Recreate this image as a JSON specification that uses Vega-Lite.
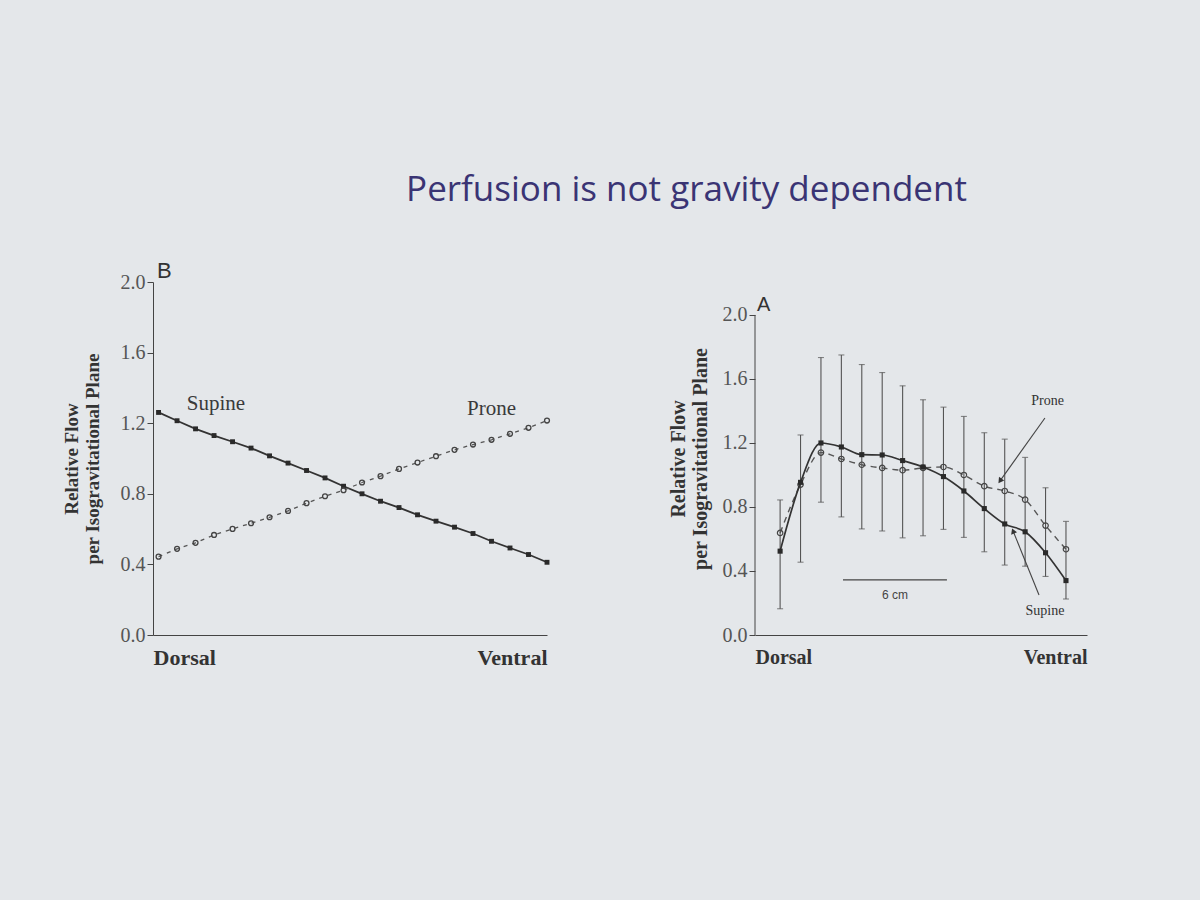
{
  "$schema": "https://vega.github.io/schema/vega-lite/v6.json",
  "background": "#e4e7ea",
  "padding": {"top": 173, "left": 62, "right": 113, "bottom": 241},
  "title": {
    "text": "Perfusion is not gravity dependent",
    "font": "Open Sans",
    "fontSize": 35,
    "fontWeight": "normal",
    "color": "#3a3474",
    "anchor": "middle",
    "dx": 112,
    "offset": 52
  },
  "config": {
    "view": {"stroke": null},
    "axis": {
      "grid": false,
      "domainColor": "#444",
      "tickColor": "#444",
      "labelFont": "Liberation Serif",
      "labelColor": "#555",
      "titleFont": "Liberation Serif",
      "titleColor": "#333"
    }
  },
  "datasets": {
    "b": [
      {"series": "Supine", "pos": 0, "flow": 1.261}, {"series": "Supine", "pos": 1, "flow": 1.214},
      {"series": "Supine", "pos": 2, "flow": 1.168}, {"series": "Supine", "pos": 3, "flow": 1.130},
      {"series": "Supine", "pos": 4, "flow": 1.095}, {"series": "Supine", "pos": 5, "flow": 1.059},
      {"series": "Supine", "pos": 6, "flow": 1.015}, {"series": "Supine", "pos": 7, "flow": 0.974},
      {"series": "Supine", "pos": 8, "flow": 0.932}, {"series": "Supine", "pos": 9, "flow": 0.890},
      {"series": "Supine", "pos": 10, "flow": 0.843}, {"series": "Supine", "pos": 11, "flow": 0.800},
      {"series": "Supine", "pos": 12, "flow": 0.758}, {"series": "Supine", "pos": 13, "flow": 0.722},
      {"series": "Supine", "pos": 14, "flow": 0.681}, {"series": "Supine", "pos": 15, "flow": 0.645},
      {"series": "Supine", "pos": 16, "flow": 0.611}, {"series": "Supine", "pos": 17, "flow": 0.575},
      {"series": "Supine", "pos": 18, "flow": 0.531}, {"series": "Supine", "pos": 19, "flow": 0.493},
      {"series": "Supine", "pos": 20, "flow": 0.456}, {"series": "Supine", "pos": 21, "flow": 0.412},
      {"series": "Prone", "pos": 0, "flow": 0.444}, {"series": "Prone", "pos": 1, "flow": 0.488},
      {"series": "Prone", "pos": 2, "flow": 0.522}, {"series": "Prone", "pos": 3, "flow": 0.567},
      {"series": "Prone", "pos": 4, "flow": 0.601}, {"series": "Prone", "pos": 5, "flow": 0.633},
      {"series": "Prone", "pos": 6, "flow": 0.667}, {"series": "Prone", "pos": 7, "flow": 0.703},
      {"series": "Prone", "pos": 8, "flow": 0.747}, {"series": "Prone", "pos": 9, "flow": 0.786},
      {"series": "Prone", "pos": 10, "flow": 0.820}, {"series": "Prone", "pos": 11, "flow": 0.864},
      {"series": "Prone", "pos": 12, "flow": 0.900}, {"series": "Prone", "pos": 13, "flow": 0.941},
      {"series": "Prone", "pos": 14, "flow": 0.977}, {"series": "Prone", "pos": 15, "flow": 1.013},
      {"series": "Prone", "pos": 16, "flow": 1.049}, {"series": "Prone", "pos": 17, "flow": 1.079},
      {"series": "Prone", "pos": 18, "flow": 1.106}, {"series": "Prone", "pos": 19, "flow": 1.140},
      {"series": "Prone", "pos": 20, "flow": 1.174}, {"series": "Prone", "pos": 21, "flow": 1.215}
    ],
    "bLabels": [
      {"text": "Supine", "pos": 3.1, "flow": 1.31},
      {"text": "Prone", "pos": 18.0, "flow": 1.28}
    ],
    "a": [
      {"pos": 0, "supine": 0.524, "prone": 0.638, "lo": 0.164, "hi": 0.844},
      {"pos": 1, "supine": 0.954, "prone": 0.94, "lo": 0.455, "hi": 1.25},
      {"pos": 2, "supine": 1.20, "prone": 1.14, "lo": 0.83, "hi": 1.734},
      {"pos": 3, "supine": 1.175, "prone": 1.10, "lo": 0.738, "hi": 1.75},
      {"pos": 4, "supine": 1.127, "prone": 1.064, "lo": 0.663, "hi": 1.69},
      {"pos": 5, "supine": 1.125, "prone": 1.044, "lo": 0.65, "hi": 1.64},
      {"pos": 6, "supine": 1.09, "prone": 1.03, "lo": 0.607, "hi": 1.557},
      {"pos": 7, "supine": 1.05, "prone": 1.044, "lo": 0.62, "hi": 1.47},
      {"pos": 8, "supine": 0.99, "prone": 1.05, "lo": 0.66, "hi": 1.424},
      {"pos": 9, "supine": 0.90, "prone": 1.00, "lo": 0.61, "hi": 1.366},
      {"pos": 10, "supine": 0.79, "prone": 0.93, "lo": 0.52, "hi": 1.264},
      {"pos": 11, "supine": 0.694, "prone": 0.90, "lo": 0.437, "hi": 1.224},
      {"pos": 12, "supine": 0.645, "prone": 0.846, "lo": 0.43, "hi": 1.11},
      {"pos": 13, "supine": 0.514, "prone": 0.684, "lo": 0.366, "hi": 0.92},
      {"pos": 14, "supine": 0.34, "prone": 0.536, "lo": 0.225, "hi": 0.71}
    ],
    "aLabels": [
      {"text": "Prone", "pos": 13.1, "flow": 1.46},
      {"text": "Supine", "pos": 12.97, "flow": 0.15}
    ],
    "aArrows": [
      {"name": "Prone", "pos": 12.97, "flow": 1.356, "pos2": 10.77, "flow2": 0.963},
      {"name": "Supine", "pos": 12.68, "flow": 0.25, "pos2": 11.41, "flow2": 0.65}
    ],
    "aScale": [
      {"pos": 3.08, "flow": 0.344, "pos2": 8.17, "label": "6 cm", "mid": 5.63, "labelFlow": 0.25}
    ]
  },
  "hconcat": [
    {
      "width": 394,
      "height": 353,
      "encoding": {
        "x": {
          "field": "pos", "type": "quantitative",
          "scale": {"domain": [-0.3, 21], "nice": false, "zero": false},
          "axis": {
            "values": [-0.3, 21],
            "labelExpr": "datum.value < 5 ? 'Dorsal' : 'Ventral'",
            "labelFlush": true,
            "ticks": false,
            "title": null,
            "labelFontSize": 22,
            "labelFontWeight": "bold",
            "labelColor": "#333",
            "labelPadding": 12
          }
        },
        "y": {
          "field": "flow", "type": "quantitative",
          "scale": {"domain": [0, 2.0], "nice": false},
          "axis": {
            "values": [0, 0.4, 0.8, 1.2, 1.6, 2.0],
            "format": ".1f",
            "labelFontSize": 20,
            "tickSize": 6,
            "title": ["Relative Flow", "per Isogravitational Plane"],
            "titleFontSize": 19,
            "titleFontWeight": "bold",
            "titlePadding": 18
          }
        }
      },
      "layer": [
        {
          "data": {"name": "b"},
          "transform": [{"filter": "datum.series === 'Supine'"}],
          "mark": {"type": "line", "color": "#333", "strokeWidth": 1.8, "point": {"shape": "square", "filled": true, "size": 24, "color": "#2a2a2a"}}
        },
        {
          "data": {"name": "b"},
          "transform": [{"filter": "datum.series === 'Prone'"}],
          "mark": {"type": "line", "color": "#555", "strokeWidth": 1.3, "strokeDash": [4, 5], "point": {"shape": "circle", "filled": false, "size": 24, "color": "#444", "strokeWidth": 1.3}}
        },
        {
          "data": {"name": "bLabels"},
          "mark": {"type": "text", "font": "Liberation Serif", "fontSize": 21, "color": "#3a3a3a"},
          "encoding": {"text": {"field": "text"}}
        },
        {
          "data": {"values": [{"label": "B", "pos": -0.3, "flow": 2.06}]},
          "mark": {"type": "text", "font": "Liberation Sans", "fontSize": 22, "color": "#333", "align": "left", "dx": 4},
          "encoding": {"text": {"field": "label"}}
        }
      ]
    },
    {
      "width": 332,
      "height": 353,
      "encoding": {
        "x": {
          "field": "pos", "type": "quantitative",
          "scale": {"domain": [-1.23, 15.03], "nice": false, "zero": false},
          "axis": {
            "values": [-1.23, 15.03],
            "labelExpr": "datum.value < 5 ? 'Dorsal' : 'Ventral'",
            "labelFlush": true,
            "ticks": false,
            "title": null,
            "labelFontSize": 20,
            "labelFontWeight": "bold",
            "labelColor": "#333",
            "labelPadding": 12
          }
        }
      },
      "layer": [
        {
          "data": {"values": [{"pos": -1.23, "lo": 0, "hi": 2.0}]},
          "mark": {"type": "rule", "color": "#444", "strokeWidth": 1},
          "encoding": {
            "y": {
              "field": "lo", "type": "quantitative",
              "scale": {"domain": [0, 2.206], "nice": false},
              "axis": {
                "values": [0, 0.4, 0.8, 1.2, 1.6, 2.0],
                "format": ".1f",
                "domain": false,
                "labelFontSize": 20,
                "tickSize": 6,
                "title": ["Relative Flow", "per Isogravitational Plane"],
                "titleFontSize": 20,
                "titleFontWeight": "bold",
                "titlePadding": 12
              }
            },
            "y2": {"field": "hi"}
          }
        },
        {
          "data": {"name": "a"},
          "mark": {"type": "rule", "color": "#555", "strokeWidth": 1.1},
          "encoding": {"y": {"field": "lo", "type": "quantitative"}, "y2": {"field": "hi"}}
        },
        {
          "data": {"name": "a"},
          "mark": {"type": "tick", "orient": "horizontal", "color": "#555", "size": 6, "thickness": 1.1},
          "encoding": {"y": {"field": "lo", "type": "quantitative"}}
        },
        {
          "data": {"name": "a"},
          "mark": {"type": "tick", "orient": "horizontal", "color": "#555", "size": 6, "thickness": 1.1},
          "encoding": {"y": {"field": "hi", "type": "quantitative"}}
        },
        {
          "data": {"name": "a"},
          "mark": {"type": "line", "color": "#555", "strokeWidth": 1.4, "strokeDash": [6, 5], "interpolate": "monotone", "point": {"shape": "circle", "filled": false, "size": 30, "color": "#444", "strokeWidth": 1.2}},
          "encoding": {"y": {"field": "prone", "type": "quantitative"}}
        },
        {
          "data": {"name": "a"},
          "mark": {"type": "line", "color": "#333", "strokeWidth": 1.7, "interpolate": "monotone", "point": {"shape": "square", "filled": true, "size": 26, "color": "#2a2a2a"}},
          "encoding": {"y": {"field": "supine", "type": "quantitative"}}
        },
        {
          "data": {"name": "aScale"},
          "mark": {"type": "rule", "color": "#444", "strokeWidth": 1.2},
          "encoding": {"y": {"field": "flow", "type": "quantitative"}, "x2": {"field": "pos2"}}
        },
        {
          "data": {"name": "aScale"},
          "mark": {"type": "text", "font": "Liberation Sans", "fontSize": 12, "color": "#444"},
          "encoding": {"x": {"field": "mid", "type": "quantitative"}, "y": {"field": "labelFlow", "type": "quantitative"}, "text": {"field": "label"}}
        },
        {
          "data": {"name": "aArrows"},
          "mark": {"type": "rule", "color": "#444", "strokeWidth": 1.1},
          "encoding": {"y": {"field": "flow", "type": "quantitative"}, "x2": {"field": "pos2"}, "y2": {"field": "flow2"}}
        },
        {
          "data": {"name": "aArrows"},
          "transform": [{"filter": "datum.name === 'Prone'"}],
          "mark": {"type": "point", "shape": "triangle-up", "filled": true, "size": 40, "color": "#333", "angle": 215, "opacity": 1},
          "encoding": {"x": {"field": "pos2", "type": "quantitative"}, "y": {"field": "flow2", "type": "quantitative"}}
        },
        {
          "data": {"name": "aArrows"},
          "transform": [{"filter": "datum.name === 'Supine'"}],
          "mark": {"type": "point", "shape": "triangle-up", "filled": true, "size": 40, "color": "#333", "angle": 338, "opacity": 1},
          "encoding": {"x": {"field": "pos2", "type": "quantitative"}, "y": {"field": "flow2", "type": "quantitative"}}
        },
        {
          "data": {"name": "aLabels"},
          "mark": {"type": "text", "font": "Liberation Serif", "fontSize": 14, "color": "#333"},
          "encoding": {"y": {"field": "flow", "type": "quantitative"}, "text": {"field": "text"}}
        },
        {
          "data": {"values": [{"label": "A", "pos": -1.23, "flow": 2.06}]},
          "mark": {"type": "text", "font": "Liberation Sans", "fontSize": 20, "color": "#333", "align": "left", "dx": 2},
          "encoding": {"y": {"field": "flow", "type": "quantitative"}, "text": {"field": "label"}}
        }
      ]
    }
  ],
  "spacing": 115
}
